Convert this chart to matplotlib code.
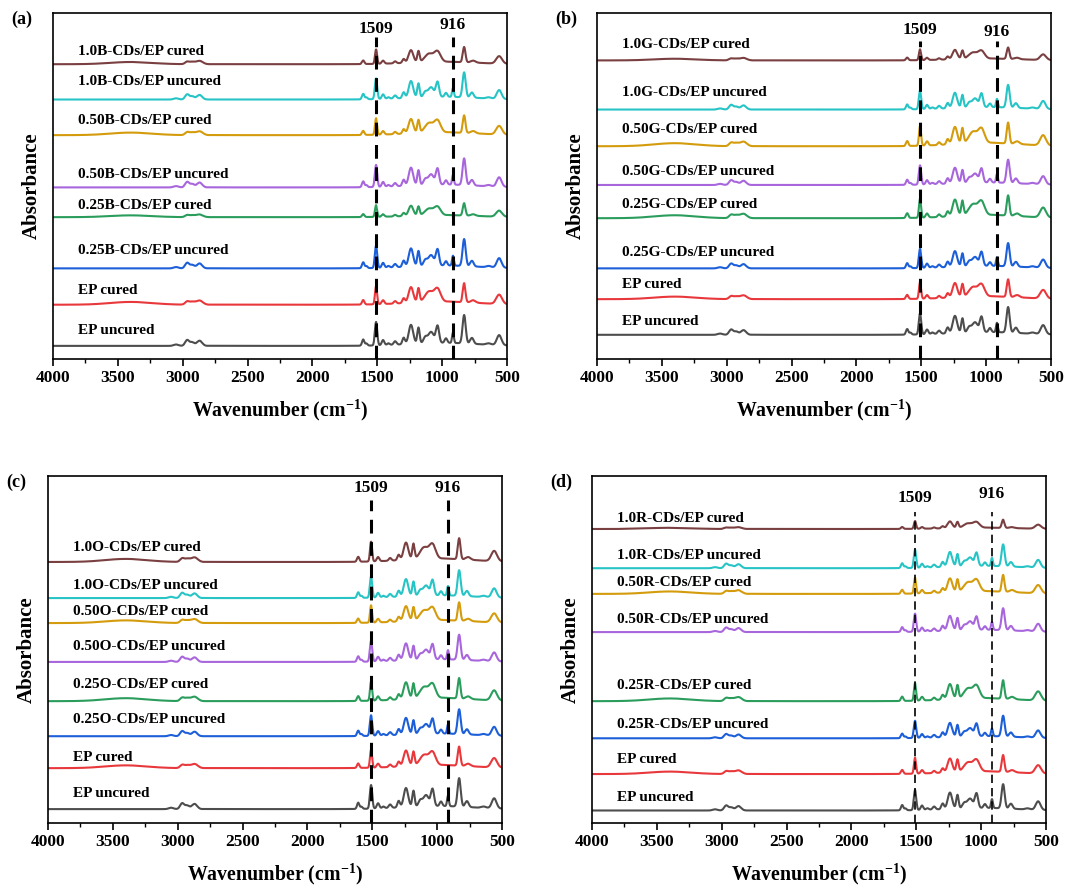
import numpy as np
import matplotlib
matplotlib.use("Agg")
import matplotlib.pyplot as plt
from matplotlib.ticker import MultipleLocator

plt.rcParams['font.family'] = ['Liberation Serif', 'DejaVu Serif']
plt.rcParams['font.weight'] = 'bold'
plt.rcParams['mathtext.fontset'] = 'custom'
plt.rcParams['mathtext.rm'] = 'Liberation Serif:bold'
plt.rcParams['mathtext.bf'] = 'Liberation Serif:bold'

# ---- peak tables (centre cm-1, height, width) ----
uncured_pos = [3050, 2965, 2925, 2870, 1608, 1582, 1509, 1455, 1413, 1362, 1296, 1240,
               1182, 1130, 1085, 1035, 970, 916, 830, 770, 640, 560, 1000]
uncured_hgt = [0.004, 0.017, 0.010, 0.015, 0.018, 0.006, 0.068, 0.015, 0.005, 0.010, 0.019, 0.055,
               0.046, 0.016, 0.032, 0.048, 0.013, 0.030, 0.082, 0.017, 0.004, 0.029, 0.009]
uncured_wid = [18, 16, 16, 20, 9, 8, 9, 10, 10, 11, 10, 17,
               9, 14, 22, 12, 10, 7, 12, 13, 18, 18, 260]

cured_pos = [3400, 2965, 2925, 2870, 1608, 1509, 1455, 1362, 1296, 1240, 1182,
             1100, 1035, 830, 760, 560, 1000]
cured_hgt = [0.008, 0.009, 0.008, 0.012, 0.013, 0.052, 0.011, 0.007, 0.014, 0.045, 0.040,
             0.030, 0.036, 0.055, 0.007, 0.027, 0.009]
cured_wid = [160, 16, 20, 25, 9, 8, 10, 10, 10, 18, 9,
             32, 24, 10, 18, 22, 260]

colors = ['#4d4d4d', '#e8383c', '#1c5fd8', '#2a9d5c',
          '#a866dc', '#d49c0c', '#27c4c6', '#7a3f40']
cured_flag = [False, True, False, True, False, True, False, True]

def names(tag):
    return ['EP uncured', 'EP cured',
            '0.25%s-CDs/EP uncured' % tag, '0.25%s-CDs/EP cured' % tag,
            '0.50%s-CDs/EP uncured' % tag, '0.50%s-CDs/EP cured' % tag,
            '1.0%s-CDs/EP uncured' % tag, '1.0%s-CDs/EP cured' % tag]

# per panel: baselines, intensity scale, label heights (axes fraction)
base_a = [0.038, 0.157, 0.262, 0.410, 0.496, 0.647, 0.750, 0.852]
scale_a = [1.00, 1.00, 0.95, 0.65, 0.94, 0.92, 0.88, 0.80]
laby_a = [0.083, 0.197, 0.315, 0.445, 0.532, 0.688, 0.801, 0.890]

base_b = [0.070, 0.173, 0.262, 0.407, 0.503, 0.615, 0.721, 0.863]
scale_b = [0.90, 0.92, 0.82, 1.06, 0.82, 1.10, 0.80, 0.60]
laby_b = [0.109, 0.216, 0.308, 0.447, 0.542, 0.663, 0.769, 0.909]

base_c = [0.040, 0.158, 0.250, 0.351, 0.464, 0.576, 0.648, 0.752]
scale_c = [1.00, 1.00, 0.87, 1.07, 0.88, 0.96, 0.90, 1.10]
laby_c = [0.084, 0.190, 0.297, 0.400, 0.509, 0.609, 0.683, 0.794]

base_d = [0.036, 0.141, 0.244, 0.351, 0.550, 0.660, 0.734, 0.847]
scale_d = [0.85, 0.88, 0.73, 0.97, 0.77, 0.88, 0.77, 0.43]
laby_d = [0.074, 0.183, 0.284, 0.397, 0.587, 0.692, 0.770, 0.876]

panels = [
    ('(a)', 'B', base_a, scale_a, laby_a, [0.0488, 0.5966, 0.418, 0.3888], 0.93, 0.955, 0.965, 'thick'),
    ('(b)', 'G', base_b, scale_b, laby_b, [0.5497, 0.5966, 0.418, 0.3888], 0.92, 0.952, 0.944, 'thick'),
    ('(c)', 'O', base_c, scale_c, laby_c, [0.0442, 0.0753, 0.418, 0.3900], 0.93, 0.965, 0.965, 'thick'),
    ('(d)', 'R', base_d, scale_d, laby_d, [0.5451, 0.0753, 0.418, 0.3900], 0.895, 0.935, 0.948, 'thin'),
]

wn = np.linspace(500, 4000, 3501)

def spectrum(pos, hgt, wid):
    y = np.zeros_like(wn)
    for p, h, w in zip(pos, hgt, wid):
        y += h * np.exp(-0.5 * ((wn - p) / w) ** 2)
    return y

spec_unc = spectrum(uncured_pos, uncured_hgt, uncured_wid)
spec_cur = spectrum(cured_pos, cured_hgt, cured_wid)

fig = plt.figure(figsize=(10.86, 8.90), dpi=100)

for tag_lbl, tag, base, scale, laby, rect, dash_top, y1509, y916, style in panels:
    ax = fig.add_axes(rect)
    for i in range(8):
        s = spec_cur if cured_flag[i] else spec_unc
        ax.plot(wn, base[i] + scale[i] * s, color=colors[i], lw=1.5)
        ax.text(3805, laby[i], names(tag)[i], fontsize=11, fontweight='bold',
                ha='left', va='center')
    if style == 'thick':
        lw, dsh = 2.2, (4.5, 2.8)
    else:
        lw, dsh = 1.2, (5, 3)
    for xv in (1509, 916):
        ax.plot([xv, xv], [0, dash_top], color='black', lw=lw, dashes=dsh)
    ax.text(1509, y1509, '1509', fontsize=12.5, fontweight='bold', ha='center', va='center')
    ax.text(916, y916, '916', fontsize=12.5, fontweight='bold', ha='center', va='center')

    ax.set_xlim(4000, 500)
    ax.set_ylim(0, 1)
    ax.xaxis.set_major_locator(MultipleLocator(500))
    ax.xaxis.set_minor_locator(MultipleLocator(250))
    ax.tick_params(axis='x', which='major', direction='out', length=5, width=1.2,
                   labelsize=12.5, pad=3)
    ax.tick_params(axis='x', which='minor', direction='out', length=3, width=1.0)
    ax.set_yticks([])
    for lab in ax.get_xticklabels():
        lab.set_fontweight('bold')
    for sp in ax.spines.values():
        sp.set_linewidth(1.2)
    ax.set_xlabel(r'Wavenumber (cm$^{-1}$)', fontsize=14.3, fontweight='bold', labelpad=8)
    ax.set_ylabel('Absorbance', fontsize=15, fontweight='bold', labelpad=8)

    fx = rect[0] - 0.038
    fy = rect[1] + rect[3] + 0.003
    fig.text(fx, fy, tag_lbl, fontsize=13, fontweight='bold', ha='left', va='top')

fig.savefig('out.png', dpi=100)
